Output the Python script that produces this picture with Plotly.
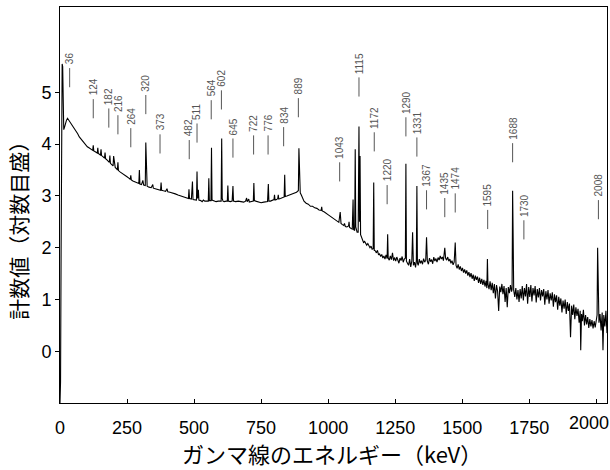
import plotly.graph_objects as go

# ---- spectrum data (energy in keV, log10 counts) ----
energy_seg1 = [0, 2, 4, 6, 8, 10, 12, 14, 17, 20, 24, 28, 32, 36, 42, 48, 54, 60, 66, 72,
               78, 84, 90, 96, 102, 108, 114, 120]
counts_seg1 = [-1.0, -0.6, 1.8, 4.6, 5.55, 5.5, 4.35, 4.28, 4.33, 4.4, 4.46, 4.5, 4.47, 4.44, 4.4, 4.33, 4.3, 4.24, 4.2, 4.14,
               4.1, 4.05, 4.01, 3.98, 3.95, 3.93, 3.9, 3.89]

energy_seg2 = [122, 124, 126, 130, 135, 139, 141, 143, 148, 151, 153, 155, 160, 166, 168, 170, 176, 182, 184, 186,
               188, 194, 198, 200, 206, 212, 214, 216, 218, 225, 235, 243, 250, 258, 262, 264, 266, 272, 280, 288,
               294, 296, 298, 304, 309, 312, 318, 320, 322, 325]
counts_seg2 = [3.88, 3.98, 3.87, 3.86, 3.84, 3.83, 3.93, 3.82, 3.8, 3.79, 3.9, 3.78, 3.76, 3.73, 3.84, 3.72, 3.69, 3.66, 3.65, 3.78,
               3.63, 3.6, 3.58, 3.77, 3.55, 3.52, 3.5, 3.65, 3.49, 3.46, 3.43, 3.4, 3.37, 3.34, 3.32, 3.4, 3.31, 3.29, 3.27, 3.25,
               3.24, 3.5, 3.23, 3.22, 3.3, 3.21, 3.2, 4.03, 3.4, 3.19]

energy_seg3 = [332, 340, 346, 348, 355, 362, 370, 375, 377, 379, 386, 394, 399, 402, 410, 420, 430, 440, 450, 460,
               470, 479, 481, 483, 490, 494, 496, 504, 509, 511, 513, 516, 518, 525, 530, 535, 540, 548, 553, 555,
               557, 563, 565, 567, 575, 582, 590, 598, 601, 603, 605, 608, 612, 620, 624, 626, 628, 635, 642, 645,
               647, 655, 665, 675, 685, 692, 696, 698]
counts_seg3 = [3.17, 3.16, 3.22, 3.15, 3.14, 3.13, 3.12, 3.11, 3.26, 3.11, 3.1, 3.09, 3.14, 3.08, 3.07, 3.06, 3.04, 3.02, 3.0, 2.98,
               2.96, 2.95, 3.13, 2.95, 2.94, 3.28, 2.93, 2.92, 2.92, 3.47, 2.95, 3.12, 2.92, 2.91, 2.89, 2.92, 2.9, 2.9, 2.9, 3.34,
               2.91, 2.91, 3.93, 2.92, 2.9, 2.89, 2.9, 2.89, 2.9, 4.11, 2.95, 2.9, 2.89, 2.9, 2.9, 3.2, 2.9, 2.89, 2.9, 3.19,
               2.9, 2.89, 2.9, 2.89, 2.88, 2.9, 2.96, 2.89]

energy_seg4 = [704, 706, 712, 718, 721, 723, 725, 730, 740, 750, 760, 768, 774, 777, 779, 785, 792, 798, 800, 802,
               808, 812, 814, 816, 822, 828, 832, 836, 838, 840, 846, 852, 858, 866, 874, 882, 886, 889, 891, 893,
               896, 900, 905, 910, 918, 926, 934, 942, 950, 958, 966, 974, 976, 978, 986, 994, 1002, 1010, 1018, 1026,
               1034, 1040, 1045, 1048, 1052, 1058, 1061, 1064, 1070, 1076, 1078, 1080, 1086, 1090, 1093, 1095, 1099, 1101, 1103, 1108,
               1112, 1115, 1117, 1119, 1121, 1125]
counts_seg4 = [2.94, 2.88, 2.89, 2.9, 2.9, 3.25, 2.91, 2.9, 2.88, 2.87, 2.88, 2.89, 2.89, 3.23, 2.9, 2.9, 2.91, 2.93, 3.02, 2.92,
               2.93, 2.95, 3.02, 2.94, 2.95, 2.96, 2.97, 2.98, 3.41, 2.99, 3.0, 3.01, 3.02, 3.04, 3.06, 3.07, 3.09, 3.1, 3.92, 3.3,
               3.06, 3.02, 2.95, 2.9, 2.86, 2.84, 2.8, 2.8, 2.77, 2.76, 2.73, 2.72, 2.79, 2.71, 2.69, 2.65, 2.63, 2.6, 2.57, 2.54,
               2.51, 2.49, 2.69, 2.47, 2.45, 2.43, 2.47, 2.41, 2.4, 2.42, 2.5, 2.39, 2.37, 2.36, 2.93, 2.35, 2.33, 3.9, 2.4, 2.3,
               2.3, 4.34, 2.5, 3.77, 2.25, 2.18]

energy_seg5 = [1128, 1132, 1136, 1140, 1144, 1148, 1152, 1156, 1160, 1164, 1168, 1170, 1172, 1176, 1180, 1184, 1188, 1192, 1196, 1200,
               1204, 1208, 1212, 1216, 1220, 1222, 1224, 1228, 1232, 1236, 1240, 1244, 1248, 1252, 1256, 1260, 1264, 1268, 1272, 1276,
               1280, 1284, 1288, 1290, 1292, 1296, 1300, 1304, 1308, 1312, 1315, 1318, 1322, 1326, 1329, 1331, 1333, 1336, 1340, 1344,
               1348, 1352, 1356, 1360, 1364, 1367, 1370, 1374, 1378, 1382, 1386, 1390, 1394, 1398, 1402, 1406, 1410, 1414, 1418, 1422,
               1426, 1430, 1435, 1438, 1442, 1446, 1450, 1454, 1458, 1462, 1466, 1470, 1474, 1477]
counts_seg5 = [2.14, 2.1, 2.12, 2.07, 2.05, 2.08, 2.02, 2.0, 2.03, 1.97, 1.98, 3.26, 1.95, 1.94, 1.9, 1.95, 1.86, 1.88, 1.83, 1.87,
               1.8, 1.84, 1.78, 1.86, 1.79, 2.26, 1.8, 1.76, 1.84, 1.77, 1.9, 1.75, 1.81, 1.74, 1.82, 1.76, 1.7, 1.8, 1.75, 1.83,
               1.72, 1.78, 1.8, 3.62, 1.74, 1.7, 1.66, 1.78, 1.63, 1.74, 2.3, 1.66, 1.72, 1.62, 1.75, 3.19, 1.7, 1.66, 1.78, 1.7,
               1.75, 1.68, 1.79, 1.72, 1.76, 2.2, 1.74, 1.68, 1.8, 1.73, 1.77, 1.69, 1.82, 1.74, 1.79, 1.72, 1.81, 1.76, 1.84, 1.78,
               1.82, 1.75, 2.0, 1.8, 1.76, 1.82, 1.74, 1.78, 1.7, 1.75, 1.67, 1.72, 2.1, 1.66]

energy_seg6 = [1481, 1485, 1489, 1493, 1497, 1501, 1505, 1509, 1513, 1517, 1521, 1525, 1529, 1533, 1537, 1541, 1545, 1549, 1553, 1557,
               1561, 1565, 1569, 1573, 1577, 1581, 1585, 1589, 1592, 1594, 1596, 1600, 1604, 1608, 1612, 1616, 1620, 1624, 1628, 1632,
               1636, 1640, 1644, 1648, 1652, 1656, 1660, 1664, 1668, 1672, 1676, 1680, 1684, 1686, 1688, 1690, 1692, 1696]
counts_seg6 = [1.6, 1.68, 1.58, 1.64, 1.55, 1.61, 1.52, 1.58, 1.5, 1.56, 1.46, 1.53, 1.43, 1.51, 1.4, 1.48, 1.36, 1.46, 1.38, 1.44,
               1.32, 1.42, 1.3, 1.4, 1.28, 1.38, 1.25, 1.36, 1.22, 1.78, 1.3, 1.2, 1.35, 1.18, 1.32, 1.12, 1.3, 1.02, 1.28, 1.16,
               0.78, 1.25, 1.14, 1.3, 1.1, 1.26, 0.95, 1.22, 0.85, 1.24, 1.12, 1.28, 1.15, 1.2, 3.1, 2.2, 1.18, 1.05]

energy_seg7 = [1700, 1704, 1708, 1712, 1716, 1720, 1724, 1728, 1732, 1736, 1740, 1744, 1748, 1752, 1756, 1760, 1764, 1768, 1772, 1776,
               1780, 1784, 1788, 1792, 1796, 1800, 1804, 1808, 1812, 1816, 1820, 1824, 1828, 1832, 1836, 1840, 1844, 1848, 1852, 1856,
               1860, 1864, 1868, 1872, 1876, 1880, 1884, 1888, 1892, 1896, 1900, 1904, 1908, 1912, 1916, 1920, 1924, 1928, 1932, 1936,
               1940, 1942, 1945, 1948, 1952, 1956, 1960, 1964, 1968, 1972, 1976, 1980, 1984, 1988, 1992, 1996, 2000, 2003, 2005, 2007,
               2010, 2014, 2018, 2022, 2025, 2028, 2032, 2036, 2040]
counts_seg7 = [1.22, 1.0, 1.18, 0.95, 1.2, 1.02, 1.26, 0.98, 1.22, 1.06, 1.3, 0.92, 1.24, 1.05, 1.28, 0.96, 1.22, 1.08, 1.26, 0.94,
               1.2, 1.04, 1.22, 0.98, 1.18, 1.06, 1.2, 0.9, 1.16, 1.0, 1.18, 0.92, 1.12, 0.98, 1.14, 0.86, 1.1, 0.95, 1.08, 0.8,
               1.05, 0.88, 1.02, 0.75, 0.98, 0.82, 1.0, 0.72, 0.95, 0.78, 0.92, 0.27, 0.88, 0.7, 0.9, 0.62, 0.85, 0.68, 0.82, 0.55,
               0.78, 0.02, 0.72, 0.58, 0.8, 0.5, 0.7, 0.52, 0.66, 0.45, 0.62, 0.48, 0.6, 0.44, 0.58, 0.46, 0.62, 0.7, 2.0, 0.8,
               0.55, 0.72, 0.4, 0.75, 0.02, 0.7, 0.48, 0.78, 0.35]

# ---- peak labels ----
label_kev = [36, 124, 182, 216, 264, 320, 373, 482, 511, 564, 602, 645, 722, 776, 834, 889, 1043, 1115, 1172, 1220,
             1290, 1331, 1367, 1435, 1474, 1595, 1688, 1730, 2008]
label_base = [5.10, 4.50, 4.32, 4.19, 3.94, 4.58, 3.82, 3.71, 4.03, 4.48, 4.67, 3.74, 3.80, 3.80, 3.96, 4.52, 3.28, 4.92, 3.86, 2.84,
              4.15, 3.76, 2.74, 2.59, 2.68, 2.36, 3.65, 2.16, 2.55]

x_ticks = [0, 250, 500, 750, 1000, 1250, 1500, 1750, 2000]
x_tick_text = ["0", "250", "500", "750", "1000", "1250", "1500", "1750", "2000"]
y_ticks = [0, 1, 2, 3, 4, 5]

x_title = "ガンマ線のエネルギー（keV）"
y_title = "計数値（対数目盛）"

energy = (energy_seg1 + energy_seg2 + energy_seg3 + energy_seg4 +
          energy_seg5 + energy_seg6 + energy_seg7)
counts = (counts_seg1 + counts_seg2 + counts_seg3 + counts_seg4 +
          counts_seg5 + counts_seg6 + counts_seg7)

FONT = "Liberation Sans, Arial, Noto Sans CJK JP, sans-serif"
CJK = "Noto Sans CJK JP, Liberation Sans, sans-serif"

fig = go.Figure()
fig.add_trace(go.Scatter(x=energy, y=counts, mode="lines",
                         line=dict(color="black", width=1.1), hoverinfo="skip",
                         showlegend=False))

LINE_LEN = 0.37
GAP = 0.03
shapes = []
annotations = []
for kev, base in zip(label_kev, label_base):
    shapes.append(dict(type="line", xref="x", yref="y", x0=kev, x1=kev,
                       y0=base, y1=base + LINE_LEN,
                       line=dict(color="#555", width=1)))
    annotations.append(dict(x=kev, y=base + LINE_LEN + GAP, xref="x", yref="y",
                            text=str(kev), showarrow=False, textangle=-90,
                            xanchor="center", yanchor="bottom",
                            font=dict(family=FONT, size=10, color="#555")))

# last x tick label is drawn as an annotation nudged left so it stays inside the page
tick_text_shown = x_tick_text[:-1] + [""]
annotations.append(dict(text=x_tick_text[-1], x=x_ticks[-1], xref="x", yref="paper",
                        y=0, yanchor="top", yshift=-8, xanchor="center", xshift=-7,
                        showarrow=False, font=dict(family=FONT, size=18, color="black")))

annotations.append(dict(text=x_title, xref="paper", yref="paper", x=0.497, y=-0.125,
                        xanchor="center", yanchor="middle", showarrow=False,
                        font=dict(family=CJK, size=22, color="black")))
annotations.append(dict(text=y_title, xref="paper", yref="paper", x=-0.077, y=0.45,
                        xanchor="center", yanchor="middle", showarrow=False, textangle=-90,
                        font=dict(family=CJK, size=21, color="black")))

fig.update_layout(
    width=610, height=470,
    margin=dict(l=60, r=3, t=7, b=67),
    paper_bgcolor="white", plot_bgcolor="white",
    shapes=shapes, annotations=annotations,
    font=dict(family=FONT, size=18, color="black"),
)
fig.update_xaxes(range=[0, 2040], tickvals=x_ticks, ticktext=tick_text_shown,
                 ticks="inside", ticklen=4,
                 tickcolor="black", showgrid=False, zeroline=False,
                 showline=True, linecolor="black", linewidth=1, mirror=True,
                 ticklabelstandoff=8, tickfont=dict(family=FONT, size=18))
fig.update_yaxes(range=[-1, 6.65], tickvals=y_ticks, ticks="outside", ticklen=4,
                 tickcolor="black", showgrid=False, zeroline=False,
                 showline=True, linecolor="black", linewidth=1, mirror=True,
                 tickfont=dict(family=FONT, size=18))

fig.write_html("out.html", config={"displayModeBar": False},
               post_script="document.body.style.margin='0';document.body.style.padding='0';")
